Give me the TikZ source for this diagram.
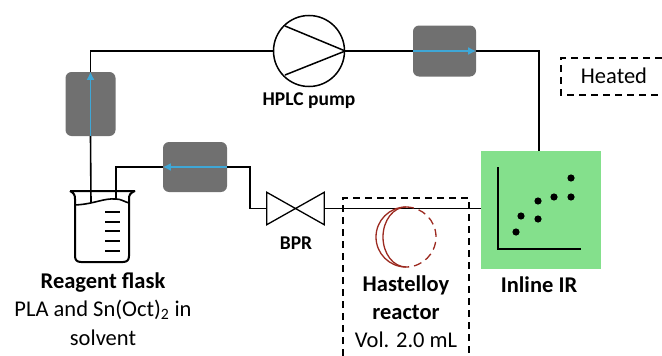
\documentclass[tikz,border=0pt]{standalone}
\usepackage{fontspec}
\setmainfont{Carlito}
\usetikzlibrary{arrows.meta}
\definecolor{filtergrey}{HTML}{707070}
\definecolor{flowblue}{HTML}{3FA7D6}
\definecolor{irgreen}{HTML}{84E08C}
\definecolor{coilred}{HTML}{9C2A20}
\tikzset{
 filterbox/.style={fill=filtergrey,rounded corners=6pt,inner sep=0pt},
 tube/.style={line width=1.6pt},
 flow/.style={-{Latex[length=8pt,width=8pt]},color=flowblue,line width=1.8pt},
 heatbox/.style={line width=1.3pt,dash pattern=on 7pt off 5pt},
 biglabel/.style={font=\fontsize{22.5}{24}\selectfont},
 boldlabel/.style={font=\fontsize{22.5}{24}\selectfont\bfseries},
 smalllabel/.style={font=\fontsize{19.5}{22}\selectfont\bfseries},
}
\begin{document}
\begin{tikzpicture}[>=latex,x=1pt,y=-1pt]
 \useasboundingbox (0,0) rectangle (662,356);
 % units
 \node [circle,draw,line width=1.5pt,minimum size=71pt,inner sep=0pt] (P) at (309,51) {};
 \node [filterbox,minimum width=50pt,minimum height=64pt] (FA) at (90.5,104) {};
 \node [filterbox,minimum width=63pt,minimum height=51pt] (FB) at (444.5,51) {};
 \node [filterbox,minimum width=64pt,minimum height=50pt] (FC) at (195,167) {};
 \node [fill=irgreen,minimum width=120pt,minimum height=118pt,inner sep=0pt] (IR) at (541,210) {};
 \node [minimum width=57pt,minimum height=32pt,inner sep=0pt] (V) at (295.5,208.5) {};
 \coordinate (TA) at (91,203);
 \coordinate (TC) at (116,199);
 \coordinate (BR) at (250,208.5);
 %
 \draw [tube] (FA.north) |- (P.west);
 \draw [tube] (P.east) -- (FB.west);
 \draw [tube] (FB.east) -| (IR.north -| 539,0);
 \draw [tube] (FA.south) -- (TA);
 \draw [tube] (FC.west) -| (TC);
 \draw [tube] (FC.east) -| (BR) -- (V.west);
 \draw [tube] (V.east) -- (V.east -| IR.west);
 %
 \draw [flow] (FA.south) -- (FA.north);
 \draw [flow] (FB.west) -- (FB.east);
 \draw [flow] (FC.east) -- (FC.west);
 % pump
 \draw [line width=1.5pt] (285,26) -- (P.east) -- (285,75);
 % valve
 \draw [line width=1.3pt] (V.north west) -- (V.south east) -- (V.north east) -- (V.south west) -- cycle;
 % flask
 \draw [line width=2pt,line join=round] (70,191) -- (135,191) (70,191) .. controls (74,193) and (75,195) .. (75,199) -- (75,256) .. controls (75,260) and (77,262) .. (81,262) -- (123,262) .. controls (127,262) and (129,260) .. (129,256) -- (129,199) .. controls (129,195) and (130,193) .. (135,191);
 \draw [line width=1.6pt] (75,205) .. controls (95,204) and (103,198) .. (116,199) .. controls (121,199) and (125,202) .. (129,203);
 \foreach \y in {212,221.5,231,241,251}
  \draw [line width=2pt] (105,\y) -- (120,\y);
 % reactor
 \draw [coilred,line width=1.3pt] (406,207) arc [start angle=90,end angle=270,radius=30pt];
 \draw [coilred,line width=1.3pt] (406,207) arc [start angle=90,end angle=270,x radius=23pt,y radius=30pt];
 \draw [coilred,line width=1.3pt,dash pattern=on 8pt off 5pt] (406,207) arc [start angle=90,end angle=-90,radius=30pt];
 % heated zones
 \draw [heatbox] (343,356) -- (343,198) -- (469,198) -- (469,356);
 \draw [heatbox] (662,58) -- (561,58) -- (561,95) -- (662,95);
 % plot
 \draw [line width=2pt] (498,167) -- (498,249) -- (581,249);
 \foreach \x/\y in {516/232,521/216,538/219,538/201,554/197,571/197,571/178}
  \fill (\x,\y) circle (3.6pt);
 % labels
 \node [boldlabel] (LF) at (103,283) {Reagent flask};
 \node [biglabel] (LS) at (103,310) {PLA and Sn(Oct)\textsubscript{2} in};
 \node [biglabel] (LT) at (103,338) {solvent};
 \node [smalllabel] (LP) at (309,101) {HPLC pump};
 \node [smalllabel] (LV) at (296,243) {BPR};
 \node [boldlabel] (LH) at (406,285) {Hastelloy};
 \node [boldlabel] (LR) at (406,312) {reactor};
 \node [biglabel] (LO) at (406,340) {Vol. 2.0 mL};
 \node [boldlabel] (LI) at (539,285) {Inline IR};
 \node [biglabel] (LE) at (614,76) {Heated};
\end{tikzpicture}
\end{document}
